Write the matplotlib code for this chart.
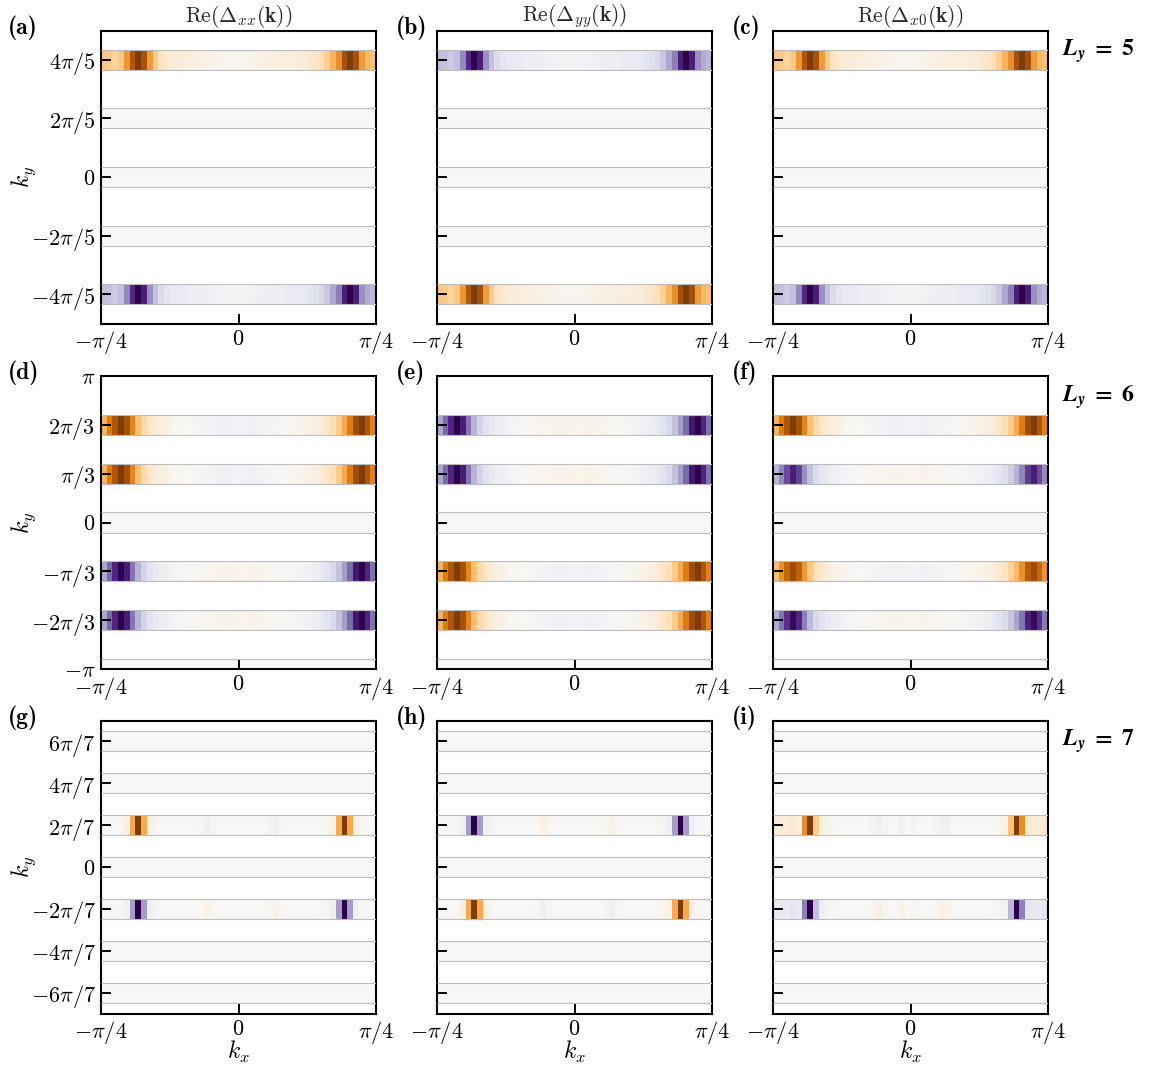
import numpy as np
import matplotlib
matplotlib.use("Agg")
import matplotlib.pyplot as plt

plt.rcParams['mathtext.fontset'] = 'cm'
plt.rcParams['font.family'] = 'serif'
plt.rcParams['font.serif'] = ['cmr10']
plt.rcParams['axes.unicode_minus'] = False

# kx grid of the zoomed window, -pi/4 .. pi/4
n_kx = 48
kx_edges = np.linspace(-np.pi / 4, np.pi / 4, n_kx + 1)

# ky values of the strips for each Ly
ky_5 = np.array([-4, -2, 0, 2, 4]) * np.pi / 5
ky_6 = np.array([-3, -2, -1, 0, 1, 2]) * np.pi / 3
ky_7 = np.array([-6, -4, -2, 0, 2, 4, 6]) * np.pi / 7

# tick labels
ticks_5 = ky_5
labels_5 = [r'$-4\pi/5$', r'$-2\pi/5$', r'$0$', r'$2\pi/5$', r'$4\pi/5$']
ticks_6 = np.array([-3, -2, -1, 0, 1, 2, 3]) * np.pi / 3
labels_6 = [r'$-\pi$', r'$-2\pi/3$', r'$-\pi/3$', r'$0$', r'$\pi/3$', r'$2\pi/3$', r'$\pi$']
ticks_7 = ky_7
labels_7 = [r'$-6\pi/7$', r'$-4\pi/7$', r'$-2\pi/7$', r'$0$', r'$2\pi/7$', r'$4\pi/7$', r'$6\pi/7$']

prof_5 = [0.32, 0.3, 0.26, 0.32, 0.52, 0.8, 1.0, 0.85, 0.5, 0.3, 0.18, 0.12,
          0.1, 0.09, 0.08, 0.07, 0.06, 0.06, 0.05, 0.04, 0.04, 0.03, 0.03, 0.03,
          0.03, 0.03, 0.04, 0.05, 0.06, 0.06, 0.07, 0.07, 0.08, 0.08, 0.09, 0.1,
          0.12, 0.15, 0.2, 0.28, 0.42, 0.55, 0.85, 1.0, 0.85, 0.5, 0.4, 0.35]
prof_6 = [0.42, 0.62, 0.82, 1.0, 0.85, 0.58, 0.36, 0.22, 0.14, 0.1, 0.07, 0.05,
          0.03, 0.02, 0.01, 0.0, -0.01, -0.02, -0.03, -0.03, -0.04, -0.05, -0.04, -0.03,
          -0.03, -0.04, -0.05, -0.04, -0.03, -0.02, -0.01, 0.0, 0.01, 0.02, 0.03, 0.04,
          0.05, 0.07, 0.1, 0.14, 0.2, 0.3, 0.45, 0.62, 0.88, 1.0, 0.82, 0.6]
prof_7 = [0.0, 0.0, 0.0, 0.01, 0.06, 0.45, 1.0, 0.45, 0.06, 0.02, 0.0, 0.0,
          0.0, 0.0, 0.0, 0.0, 0.0, -0.01, -0.05, -0.02, 0.0, 0.0, 0.0, 0.0,
          0.0, 0.0, 0.0, 0.0, 0.0, -0.02, -0.05, -0.01, 0.0, 0.0, 0.0, 0.0,
          0.0, 0.0, 0.01, 0.02, 0.05, 0.45, 1.0, 0.45, 0.05, 0.01, 0.0, 0.0]
prof_7i = [0.08, 0.1, 0.1, 0.12, 0.1, 0.55, 1.0, 0.3, 0.06, 0.02, 0.01, 0.0,
           0.0, 0.0, 0.0, 0.0, 0.0, -0.02, -0.06, -0.03, 0.0, 0.0, -0.04, 0.0,
           -0.03, 0.0, 0.0, 0.0, -0.02, -0.05, -0.04, 0.0, 0.0, 0.0, 0.0, 0.0,
           0.0, 0.0, 0.01, 0.02, 0.04, 0.35, 1.0, 0.55, 0.12, 0.1, 0.1, 0.12]

# strip amplitudes (one per ky, bottom to top)
amp_a = [-1, 0, 0, 0, 1]
amp_b = [1, 0, 0, 0, -1]
amp_c = [-1, 0, 0, 0, 1]
amp_d = [0, -1, -1, 0, 1, 1]
amp_e = [0, 1, 1, 0, -1, -1]
amp_f = [0, -0.95, 0.88, 0, -0.85, 1]
amp_g = [0, 0, -1, 0, 1, 0, 0]
amp_h = [0, 0, 1, 0, -1, 0, 0]
amp_i = [0, 0, -1, 0, 1, 0, 0]

titles = [r'$\mathrm{Re}(\Delta_{xx}(\mathbf{k}))$',
          r'$\mathrm{Re}(\Delta_{yy}(\mathbf{k}))$',
          r'$\mathrm{Re}(\Delta_{x0}(\mathbf{k}))$']
panel_tags = ['a', 'b', 'c', 'd', 'e', 'f', 'g', 'h', 'i']
ly_values = [5, 6, 7]

rows = [
    (ky_5, ticks_5, labels_5, [(amp_a, prof_5), (amp_b, prof_5), (amp_c, prof_5)]),
    (ky_6, ticks_6, labels_6, [(amp_d, prof_6), (amp_e, prof_6), (amp_f, prof_6)]),
    (ky_7, ticks_7, labels_7, [(amp_g, prof_7), (amp_h, prof_7), (amp_i, prof_7i)]),
]

W, H = 1150, 1070
fig = plt.figure(figsize=(W / 100, H / 100), dpi=100)

lefts_px = [101, 437, 773]
tops_px = [30.5, 376, 720.5]
w_px, h_px = 275, 293
half = 0.215


def draw_panel(ax, ky, amps, profile):
    prof = np.array(profile)
    for k, a in zip(ky, amps):
        vals = (a * prof)[None, :]
        ax.pcolormesh(kx_edges, [k - half, k + half], vals, cmap='PuOr_r',
                      vmin=-1, vmax=1, shading='flat', edgecolors='none')
        ax.hlines([k - half, k + half], -np.pi / 4, np.pi / 4,
                  colors='#bdbdbd', lw=0.8, zorder=3)


for r, (ky, yticks, ylabels, panels) in enumerate(rows):
    for c, (amps, profile) in enumerate(panels):
        left = lefts_px[c] / W
        bottom = 1 - (tops_px[r] + h_px) / H
        ax = fig.add_axes([left, bottom, w_px / W, h_px / H])
        draw_panel(ax, ky, amps, profile)
        ax.set_xlim(-np.pi / 4, np.pi / 4)
        ax.set_ylim(-np.pi, np.pi)
        ax.set_xticks([-np.pi / 4, 0, np.pi / 4])
        ax.set_xticklabels([r'$-\pi/4$', r'$0$', r'$\pi/4$'])
        ax.set_yticks(yticks)
        if c == 0:
            ax.set_yticklabels(ylabels)
            ax.set_ylabel(r'$k_y$', fontsize=17)
            ax.yaxis.set_label_coords(-0.23, 0.5)
        else:
            ax.set_yticklabels([])
        if r == 2:
            ax.set_xlabel(r'$k_x$', fontsize=17)
            ax.xaxis.set_label_coords(0.5, -0.088)
        if r == 0:
            ax.set_title(titles[c], fontsize=15.5, color='#2a2a2a', pad=3)
        ax.tick_params(direction='in', length=7.5, width=1.4, labelsize=16,
                       pad=4, top=False, right=False)
        for sp in ax.spines.values():
            sp.set_linewidth(1.5)

        # panel tag in Computer Modern bold
        tag = panel_tags[3 * r + c]
        tag_x = 8 if c == 0 else lefts_px[c] - 41
        fig.text(tag_x / W, 1 - (tops_px[r] - 3) / H, '(%s)' % tag,
                 family='cmb10', fontsize=17, ha='left', va='center')

    fig.text((1048 + 14) / W, 1 - (tops_px[r] + 21) / H,
             r'$\mathbfit{L_y}\ \mathbf{=}\ \mathbf{%d}$' % ly_values[r],
             fontsize=17, ha='left', va='center', math_fontfamily='stix')

fig.savefig('out.png', dpi=100)
